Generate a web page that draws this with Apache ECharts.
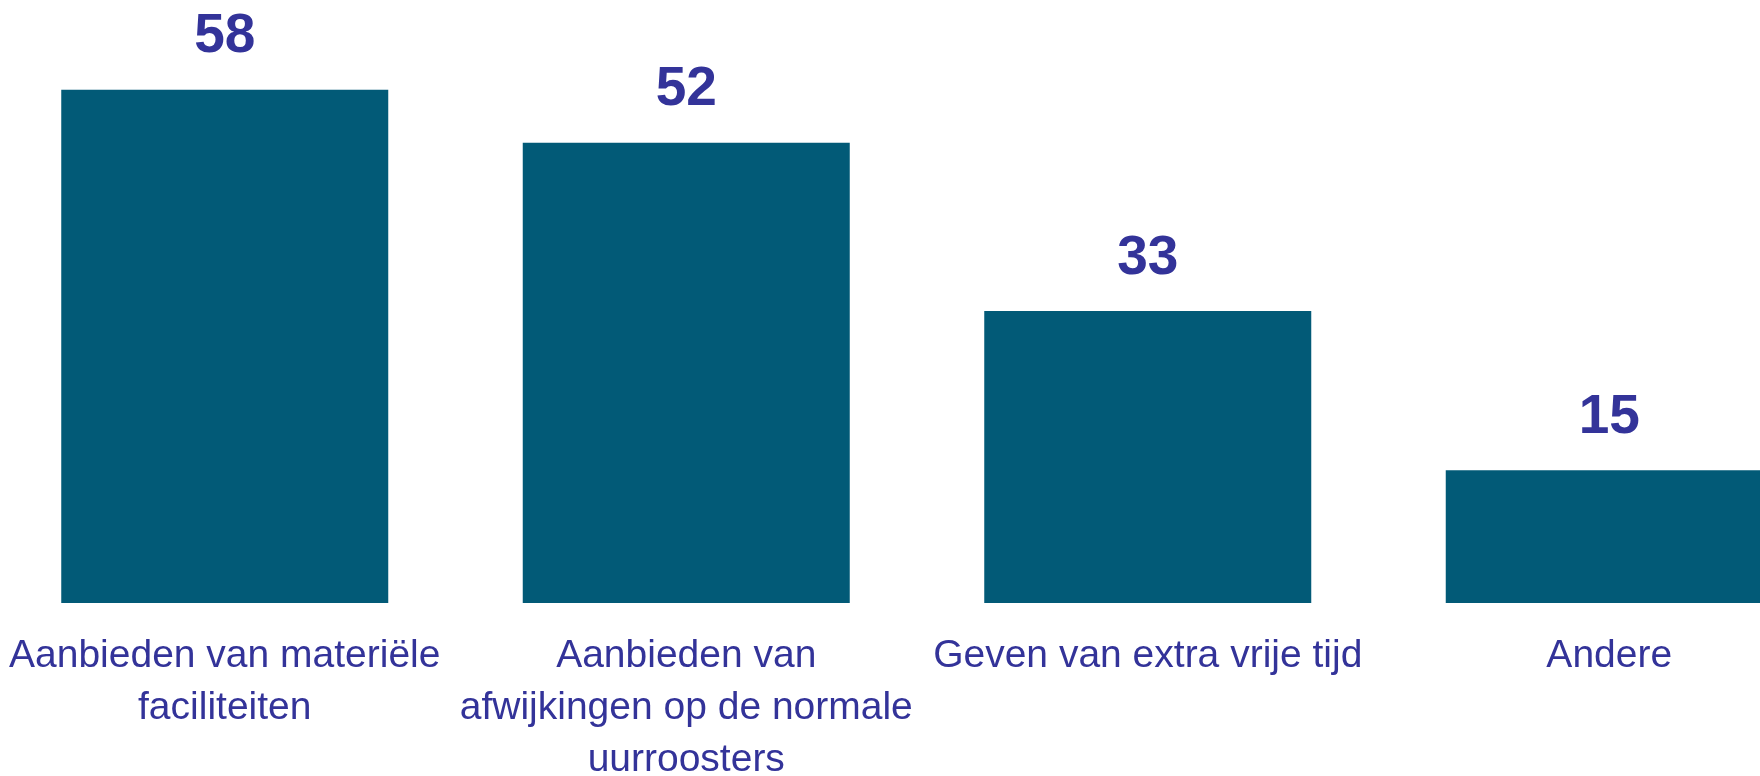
<!DOCTYPE html>
<html>
<head>
<meta charset="utf-8">
<script src="https://cdn.jsdelivr.net/npm/echarts@6/dist/echarts.min.js"></script>
<style>
  html, body { margin: 0; padding: 0; background: #fff; }
  #chart { width: 1760px; height: 776px; }
</style>
</head>
<body>
<div id="chart"></div>
<script>
// categories (line breaks as in the original slide)
const categories = [
  'Aanbieden van materiële\nfaciliteiten',
  'Aanbieden van\nafwijkingen op de normale\nuurroosters',
  'Geven van extra vrije tijd',
  'Andere'
];
const values = [58, 52, 33, 15];

const chart = echarts.init(document.getElementById('chart'));

chart.setOption({
  animation: false,
  grid: {
    left: -6,
    width: 1846,
    top: 72,
    bottom: 173,
    containLabel: false,
    outerBoundsMode: 'none'
  },
  xAxis: {
    type: 'category',
    data: categories,
    axisLine: { show: false },
    axisTick: { show: false },
    axisLabel: {
      interval: 0,
      margin: 27,
      color: '#333399',
      fontFamily: 'Liberation Sans, Arial, sans-serif',
      fontSize: 39,
      lineHeight: 52
    }
  },
  yAxis: {
    type: 'value',
    min: 0,
    max: 60,
    show: false,
    splitLine: { show: false }
  },
  series: [{
    type: 'bar',
    data: values,
    barWidth: 327,
    itemStyle: { color: '#025A77' },
    label: {
      show: true,
      position: 'top',
      distance: 25,
      color: '#333399',
      fontFamily: 'Liberation Sans, Arial, sans-serif',
      fontWeight: 'bold',
      fontSize: 55
    }
  }]
});
</script>
</body>
</html>
